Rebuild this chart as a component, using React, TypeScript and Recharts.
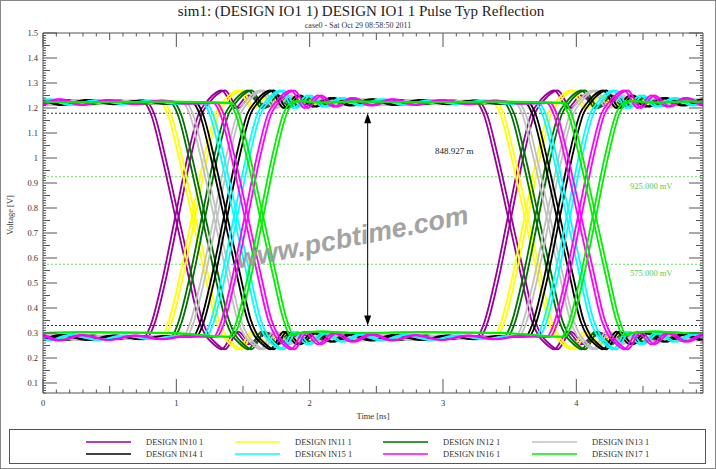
import { Line, LineChart, ReferenceDot, ReferenceLine, XAxis, YAxis } from "recharts";

const SERIF = '"Liberation Serif", "Times New Roman", serif';
const AXIS = "#555";
const TEXT = "#333";

const netNames = [
  "DESIGN IN10 1",
  "DESIGN IN11 1",
  "DESIGN IN12 1",
  "DESIGN IN13 1",
  "DESIGN IN14 1",
  "DESIGN IN15 1",
  "DESIGN IN16 1",
  "DESIGN IN17 1",
];
const netColors = ["#990099", "#ffff00", "#007000", "#c0c0c0", "#000000", "#00ffff", "#ff00ff", "#00ee00"];

// mid-level crossing times (ns), two traces per net, first and second eye
const eye1Cross = [
  [0.99, 1.015],
  [1.115, 1.14],
  [1.19, 1.215],
  [1.28, 1.305],
  [1.355, 1.38],
  [1.43, 1.455],
  [1.51, 1.535],
  [1.625, 1.65],
];
const eye2Cross = [
  [3.485, 3.51],
  [3.61, 3.635],
  [3.69, 3.715],
  [3.775, 3.8],
  [3.85, 3.875],
  [3.925, 3.95],
  [4.01, 4.035],
  [4.12, 4.145],
];
const bitPeriod = 2.5;

// edge shapes, [ns from crossing, V]
const fallEdge = [
  [-0.23, 1.22],
  [-0.18, 1.175],
  [-0.1, 1.01],
  [0, 0.77],
  [0.1, 0.53],
  [0.18, 0.35],
  [0.23, 0.29],
];
const riseEdge = [
  [-0.23, 0.285],
  [-0.18, 0.335],
  [-0.1, 0.5],
  [0, 0.76],
  [0.1, 1.02],
  [0.18, 1.18],
  [0.23, 1.22],
];
// ringing on the plateaus after an edge
const ringHigh = [
  [0.28, 1.25],
  [0.35, 1.27],
  [0.45, 1.2],
  [0.55, 1.25],
  [0.67, 1.205],
  [0.8, 1.24],
  [0.94, 1.21],
  [1.1, 1.235],
  [1.27, 1.212],
  [1.47, 1.232],
  [1.67, 1.215],
  [1.87, 1.23],
  [2.05, 1.218],
];
const ringLow = [
  [0.28, 0.26],
  [0.35, 0.235],
  [0.45, 0.305],
  [0.55, 0.255],
  [0.67, 0.3],
  [0.8, 0.265],
  [0.94, 0.295],
  [1.1, 0.27],
  [1.27, 0.292],
  [1.47, 0.272],
  [1.67, 0.29],
  [1.87, 0.275],
  [2.05, 0.288],
];
const ringHighQuiet = [
  [0.28, 1.228],
  [0.45, 1.222],
  [0.7, 1.226],
  [1.2, 1.223],
  [1.8, 1.225],
];
const ringLowQuiet = [
  [0.28, 0.3],
  [0.45, 0.306],
  [0.7, 0.3],
  [1.2, 0.303],
  [1.8, 0.3],
];
const quietNet = "DESIGN IN17 1";

const xLabels = [0, 1, 2, 3, 4];
const yLabels = [0.1, 0.2, 0.3, 0.4, 0.5, 0.6, 0.7, 0.8, 0.9, 1, 1.1, 1.2, 1.3, 1.4, 1.5];

const measureX = 2.435;
const measureTop = 1.179;
const measureBottom = 0.33;
const measureText = "848.927 m";
const measureLabelT = 2.91;
const measureLabelV = 1.03;
const levelValues = [0.925, 0.575];
const levelTexts = ["925.000 mV", "575.000 mV"];

const title = "sim1: (DESIGN IO1 1) DESIGN IO1 1 Pulse Typ Reflection";
const subtitle = "case0 - Sat Oct 29 08:58:50 2011";

type Pt = { t: number; v: number };

function buildTrace(crossings: number[], firstRises: boolean, quiet: boolean): Pt[] {
  const pts: Pt[] = [];
  crossings.forEach((tc, i) => {
    const rising = (i % 2 === 0) === firstRises;
    const edge = rising ? riseEdge : fallEdge;
    const ring = rising ? (quiet ? ringHighQuiet : ringHigh) : quiet ? ringLowQuiet : ringLow;
    for (const [dt, v] of edge) pts.push({ t: tc + dt, v });
    for (const [dt, v] of ring) pts.push({ t: tc + dt, v });
  });
  return pts;
}

const traces = netNames.flatMap((name, n) =>
  eye1Cross[n].flatMap((c1, k) => {
    const c2 = eye2Cross[n][k];
    const crossings = [c1 - bitPeriod, c1, c2, c2 + bitPeriod];
    const quiet = name === quietNet;
    return [
      { key: `${name}-${k}-a`, color: netColors[n], data: buildTrace(crossings, true, quiet) },
      { key: `${name}-${k}-b`, color: netColors[n], data: buildTrace(crossings, false, quiet) },
    ];
  })
);

const xTicks = Array.from({ length: 50 }, (_, i) => i / 10);
const yTicks = Array.from({ length: 145 }, (_, i) => (i + 6) / 100);

const yLen = (v: number) => {
  const k = Math.round(v * 100);
  return k % 10 === 0 ? 14 : k % 5 === 0 ? 7 : 3;
};
const xLen = (v: number) => {
  const k = Math.round(v * 10);
  return k % 10 === 0 ? 14 : k % 5 === 0 ? 7 : 3.5;
};

function LeftTick(p: any) {
  const v = p.payload.value;
  const label = yLabels.find((l) => Math.abs(l - v) < 1e-6);
  return (
    <g>
      <line x1={p.x} y1={p.y} x2={p.x + yLen(v)} y2={p.y} stroke={AXIS} />
      {label !== undefined && (
        <text x={p.x - 5} y={p.y + 3} textAnchor="end" fontSize={8.5} fontFamily={SERIF} fill={TEXT}>
          {String(label)}
        </text>
      )}
    </g>
  );
}

function RightTick(p: any) {
  const v = p.payload.value;
  return <line x1={p.x} y1={p.y} x2={p.x - yLen(v)} y2={p.y} stroke={AXIS} />;
}

function BottomTick(p: any) {
  const v = p.payload.value;
  const label = xLabels.find((l) => Math.abs(l - v) < 1e-6);
  return (
    <g>
      <line x1={p.x} y1={p.y} x2={p.x} y2={p.y - xLen(v)} stroke={AXIS} />
      {label !== undefined && (
        <text x={p.x} y={p.y + 13} textAnchor="middle" fontSize={8.5} fontFamily={SERIF} fill={TEXT}>
          {String(label)}
        </text>
      )}
    </g>
  );
}

function TopTick(p: any) {
  const v = p.payload.value;
  return <line x1={p.x} y1={p.y} x2={p.x} y2={p.y + xLen(v)} stroke={AXIS} />;
}

function MeasureArrow(p: any) {
  const x = p.x1;
  const top = Math.min(p.y1, p.y2);
  const bot = Math.max(p.y1, p.y2);
  return (
    <g>
      <line x1={x} x2={x} y1={top + 4} y2={bot - 4} stroke="#000" strokeWidth={1} />
      <polygon points={`${x},${top} ${x - 3.5},${top + 10} ${x + 3.5},${top + 10}`} fill="#000" />
      <polygon points={`${x},${bot} ${x - 3.5},${bot - 10} ${x + 3.5},${bot - 10}`} fill="#000" />
    </g>
  );
}

const levelLabel = (text: string) => (props: any) => {
  const vb = props.viewBox;
  return (
    <text x={vb.x + vb.width - 73} y={vb.y + 12} fill="#55cc55" fontSize={8.5} fontFamily={SERIF}>
      {text}
    </text>
  );
};

const legendCols = [86, 235, 383, 532];
const legendRows = [442, 454];

export default function App() {
  return (
    <div style={{ position: "absolute", left: 0, top: 0, width: 716, height: 469, background: "#fff" }}>
      <LineChart width={716} height={469} margin={{ top: 23, right: 8, bottom: 56, left: 8 }}>
        <XAxis
          dataKey="t"
          type="number"
          domain={[0, 4.95]}
          allowDataOverflow
          ticks={xTicks}
          interval={0}
          tickSize={0}
          tickMargin={0}
          tickLine={false}
          tick={BottomTick}
          height={20}
          axisLine={{ stroke: AXIS }}
        />
        <XAxis
          xAxisId="top"
          orientation="top"
          dataKey="t"
          type="number"
          domain={[0, 4.95]}
          allowDataOverflow
          ticks={xTicks}
          interval={0}
          tickSize={0}
          tickMargin={0}
          tickLine={false}
          tick={TopTick}
          height={10}
          axisLine={{ stroke: AXIS }}
        />
        <YAxis
          type="number"
          domain={[0.06, 1.5]}
          allowDataOverflow
          ticks={yTicks}
          interval={0}
          tickSize={0}
          tickMargin={0}
          tickLine={false}
          tick={LeftTick}
          width={35}
          axisLine={{ stroke: AXIS }}
        />
        <YAxis
          yAxisId="right"
          orientation="right"
          type="number"
          domain={[0.06, 1.5]}
          allowDataOverflow
          ticks={yTicks}
          interval={0}
          tickSize={0}
          tickMargin={0}
          tickLine={false}
          tick={RightTick}
          width={5}
          axisLine={{ stroke: AXIS }}
        />
        {levelValues.map((v, i) => (
          <ReferenceLine
            key={`lvl-${v}`}
            y={v}
            stroke="#66dd66"
            strokeDasharray="2 2"
            label={levelLabel(levelTexts[i])}
          />
        ))}
        <ReferenceLine y={measureTop} stroke="#333" strokeDasharray="2 2" />
        <ReferenceLine y={measureBottom} stroke="#333" strokeDasharray="2 2" />
        {traces.map((tr) => (
          <Line
            key={tr.key}
            data={tr.data}
            dataKey="v"
            type="monotone"
            stroke={tr.color}
            strokeWidth={1.8}
            dot={false}
            activeDot={false}
            isAnimationActive={false}
          />
        ))}
        <ReferenceLine
          segment={[
            { x: measureX, y: measureTop },
            { x: measureX, y: measureBottom },
          ]}
          shape={MeasureArrow}
        />
        <ReferenceDot
          x={measureLabelT}
          y={measureLabelV}
          r={0}
          fill="none"
          stroke="none"
          label={{ value: measureText, position: "right", offset: 4, fill: "#222", fontSize: 9, fontFamily: SERIF }}
        />
      </LineChart>
      <svg
        width={716}
        height={469}
        style={{ position: "absolute", left: 0, top: 0, pointerEvents: "none" }}
      >
        <rect x={0.5} y={0.5} width={715} height={468} fill="none" stroke="#888" />
        <text x={361} y={16} textAnchor="middle" fontSize={15} fontFamily={SERIF} fill="#222">
          {title}
        </text>
        <text x={358} y={28} textAnchor="middle" fontSize={8} fontFamily={SERIF} fill="#333">
          {subtitle}
        </text>
        <text x={373} y={419} textAnchor="middle" fontSize={8.5} fontFamily={SERIF} fill={TEXT}>
          Time [ns]
        </text>
        <text
          x={13}
          y={215}
          textAnchor="middle"
          fontSize={8.5}
          fontFamily={SERIF}
          fill={TEXT}
          transform="rotate(-90 13 215)"
        >
          Voltage [V]
        </text>
        <text
          x={354}
          y={246}
          textAnchor="middle"
          fontSize={27}
          fontWeight="bold"
          fontStyle="italic"
          fontFamily='"Liberation Sans", Arial, sans-serif'
          fill="#9a9a9a"
          opacity={0.9}
          transform="rotate(-11 354 246)"
        >
          www.pcbtime.com
        </text>
        <rect x={9.5} y={429.5} width={696} height={34} fill="none" stroke="#555" />
        {netNames.map((name, n) => {
          const x = legendCols[n % 4];
          const y = legendRows[Math.floor(n / 4)];
          return (
            <g key={name}>
              <line x1={x} x2={x + 45} y1={y} y2={y} stroke={netColors[n]} strokeWidth={1.5} />
              <text x={x + 60} y={y + 3} fontSize={8.5} fontFamily={SERIF} fill={TEXT}>
                {name}
              </text>
            </g>
          );
        })}
      </svg>
    </div>
  );
}
